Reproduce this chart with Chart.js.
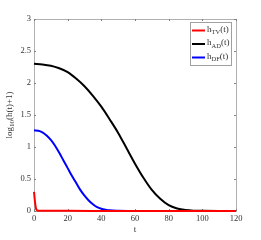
<!DOCTYPE html>
<html lang="en">
<head>
  <meta charset="UTF-8" />
  <title>log10(h(t)+1)</title>
  <script src="https://cdn.jsdelivr.net/npm/chart.js"></script>
  <style>
    html, body { margin: 0; padding: 0; background: #fff; }
    #wrap { width: 261px; height: 240px; }
  </style>
</head>
<body>
  <div id="wrap"><canvas id="chart" width="261" height="240"></canvas></div>

  <script>
    // values
    const tvTime   = [0, 0.4, 0.8, 1.2, 1.6, 2, 3, 5, 10, 20, 40, 60, 80, 100, 120];
    const tvValues = [0.30, 0.19, 0.10, 0.04, 0.015, 0.008, 0.005, 0.004, 0.003, 0.002, 0.001, 0, 0, 0, 0];

    const adTime   = [0, 5, 10, 15, 20, 25, 30, 35, 40, 45, 50, 55, 60, 65, 70, 75, 80, 85, 90, 95, 100, 110, 120];
    const adValues = [2.30, 2.29, 2.27, 2.23, 2.17, 2.07, 1.95, 1.80, 1.63, 1.43, 1.22, 0.98, 0.74, 0.52, 0.33, 0.19, 0.09, 0.04, 0.015, 0.005, 0.002, 0, 0];

    const dfTime   = [0, 2.5, 5, 7.5, 10, 12.5, 15, 17.5, 20, 22.5, 25, 27.5, 30, 32.5, 35, 37.5, 40, 42.5, 45, 50, 60, 80, 100, 120];
    const dfValues = [1.26, 1.255, 1.23, 1.18, 1.11, 1.02, 0.91, 0.79, 0.67, 0.55, 0.44, 0.33, 0.24, 0.165, 0.105, 0.06, 0.035, 0.02, 0.01, 0.004, 0.001, 0, 0, 0];

    const xTicks = [0, 20, 40, 60, 80, 100, 120];
    const yTicks = [0, 0.5, 1, 1.5, 2, 2.5, 3];

    const seriesNames = [['TV', '#ff0000'], ['AD', '#000000'], ['DF', '#0000ff']];

    const serif = "'Liberation Serif', 'DejaVu Serif', serif";

    function pts(ts, vs) {
      return ts.map((t, i) => ({ x: t, y: vs[i] }));
    }

    // MATLAB-like box, inward ticks, subscript labels and legend
    const matlabLook = {
      id: 'matlabLook',
      beforeDatasetsDraw(chart) {
        const { ctx, chartArea: a, scales } = chart;
        ctx.save();
        ctx.strokeStyle = '#b0b0b0';
        ctx.lineWidth = 1;
        ctx.strokeRect(Math.round(a.left) + 0.5, Math.round(a.top) + 0.5,
          Math.round(a.right - a.left), Math.round(a.bottom - a.top));

        ctx.strokeStyle = '#808080';
        ctx.beginPath();
        xTicks.forEach(v => {
          const x = Math.round(scales.x.getPixelForValue(v)) + 0.5;
          ctx.moveTo(x, a.bottom); ctx.lineTo(x, a.bottom - 2);
          ctx.moveTo(x, a.top); ctx.lineTo(x, a.top + 2);
        });
        yTicks.forEach(v => {
          const y = Math.round(scales.y.getPixelForValue(v)) + 0.5;
          ctx.moveTo(a.left, y); ctx.lineTo(a.left + 2, y);
          ctx.moveTo(a.right, y); ctx.lineTo(a.right - 2, y);
        });
        ctx.stroke();
        ctx.restore();
      },
      afterDatasetsDraw(chart) {
        const { ctx, chartArea: a } = chart;
        ctx.save();
        // x title
        ctx.fillStyle = '#333';
        ctx.font = '9px ' + serif;
        ctx.textAlign = 'center';
        ctx.textBaseline = 'middle';
        ctx.fillText('t', (a.left + a.right) / 2, 230);

        // y title with subscript
        ctx.translate(10, (a.top + a.bottom) / 2);
        ctx.rotate(-Math.PI / 2);
        const parts = [['log', 9, 0], ['10', 7, 2.5], ['(h(t)+1)', 9, 0]];
        let w = 0;
        parts.forEach(p => { ctx.font = p[1] + 'px ' + serif; w += ctx.measureText(p[0]).width; });
        let x = -w / 2;
        ctx.textAlign = 'left';
        parts.forEach(p => {
          ctx.font = p[1] + 'px ' + serif;
          ctx.fillText(p[0], x, p[2]);
          x += ctx.measureText(p[0]).width;
        });
        ctx.setTransform(1, 0, 0, 1, 0, 0);

        // legend
        ctx.fillStyle = '#fff';
        ctx.fillRect(190, 22, 41, 43);
        ctx.strokeStyle = '#a0a0a0';
        ctx.lineWidth = 1;
        ctx.strokeRect(190.5, 22.5, 41, 43);
        const rowY = [30.5, 44, 57.5];
        seriesNames.forEach((s, i) => {
          const y = rowY[i];
          ctx.strokeStyle = s[1];
          ctx.lineWidth = 2;
          ctx.beginPath();
          ctx.moveTo(192, y); ctx.lineTo(205, y);
          ctx.stroke();
          ctx.fillStyle = '#333';
          ctx.textBaseline = 'middle';
          ctx.font = '9px ' + serif;
          ctx.fillText('h', 207, y - 1);
          let lx = 207 + ctx.measureText('h').width;
          ctx.font = '6.5px ' + serif;
          ctx.fillText(s[0], lx, y + 2);
          lx += ctx.measureText(s[0]).width;
          ctx.font = '9px ' + serif;
          ctx.fillText('(t)', lx, y - 1);
        });
        ctx.restore();
      }
    };

    const lineOpts = { borderWidth: 2, showLine: true, pointRadius: 0, cubicInterpolationMode: 'monotone', clip: false };

    new Chart(document.getElementById('chart').getContext('2d'), {
      type: 'scatter',
      data: {
        datasets: [
          { label: 'h_TV(t)', data: pts(tvTime, tvValues), borderColor: '#ff0000', ...lineOpts },
          { label: 'h_AD(t)', data: pts(adTime, adValues), borderColor: '#000000', ...lineOpts },
          { label: 'h_DF(t)', data: pts(dfTime, dfValues), borderColor: '#0000ff', ...lineOpts }
        ]
      },
      options: {
        responsive: false,
        animation: false,
        layout: { padding: { top: 19, right: 25, left: 0, bottom: 0 } },
        plugins: { legend: { display: false }, tooltip: { enabled: false } },
        scales: {
          x: {
            type: 'linear', min: 0, max: 120,
            afterBuildTicks: s => { s.ticks = xTicks.map(v => ({ value: v })); },
            afterFit: s => { s.height = 29; },
            grid: { display: false, drawTicks: false },
            border: { display: false },
            ticks: { color: '#333', font: { family: serif, size: 8.5 }, padding: 3, maxRotation: 0, callback: v => String(v) }
          },
          y: {
            type: 'linear', min: 0, max: 3,
            afterBuildTicks: s => { s.ticks = yTicks.map(v => ({ value: v })); },
            afterFit: s => { s.width = 34; },
            grid: { display: false, drawTicks: false },
            border: { display: false },
            ticks: { color: '#333', font: { family: serif, size: 8.5 }, padding: 3, callback: v => String(v) }
          }
        }
      },
      plugins: [matlabLook]
    });
  </script>
</body>
</html>
